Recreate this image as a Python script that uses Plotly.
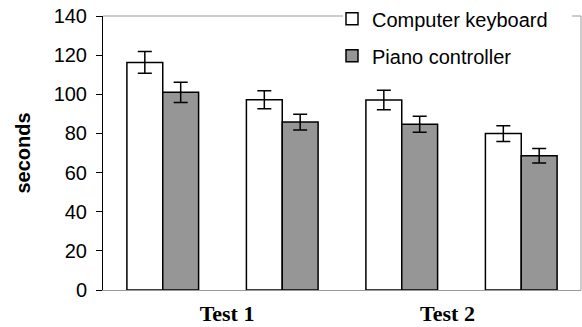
import plotly.graph_objects as go

# Data
group_index = [0, 1, 2, 3]
keyboard = [116.3, 97.2, 97.1, 79.9]
keyboard_err = [5.5, 4.6, 5.0, 4.0]
piano = [101.0, 85.8, 84.7, 68.6]
piano_err = [5.2, 4.0, 4.1, 3.7]
test_labels = ["Test 1", "Test 2"]
y_ticks = [0, 20, 40, 60, 80, 100, 120, 140]

L, R, T, B = 103, 1, 16, 37
W, H = 582, 327
pw = W - L - R

def px(x):
    return (x - L) / pw

fig = go.Figure()
fig.add_trace(go.Bar(
    x=group_index, y=keyboard, name="Computer keyboard",
    marker=dict(color="white", line=dict(color="black", width=1.5)),
    error_y=dict(type="data", array=keyboard_err, color="black", thickness=1.5, width=7),
    legendgroup="a",
))
fig.add_trace(go.Bar(
    x=group_index, y=piano, name="Piano controller",
    marker=dict(color="#969696", line=dict(color="black", width=1.5)),
    error_y=dict(type="data", array=piano_err, color="black", thickness=1.5, width=7),
    legendgroup="b",
))

fig.update_layout(
    width=W, height=H,
    margin=dict(l=L, r=R, t=T, b=B, autoexpand=False),
    paper_bgcolor="white", plot_bgcolor="white",
    barmode="group", bargap=0.4, bargroupgap=0,
    font=dict(family="Liberation Sans, Arial, sans-serif", size=20, color="black"),
    showlegend=True,
    legend=dict(x=px(332), xanchor="left", y=1.061, yanchor="top",
                bgcolor="rgba(0,0,0,0)", font=dict(size=20),
                tracegroupgap=8, traceorder="grouped"),
    xaxis=dict(range=[-0.5, 3.5], tickmode="array", tickvals=[0.538, 2.383],
               ticktext=test_labels, showgrid=False, zeroline=False,
               showline=True, linecolor="#999999", linewidth=1, ticks="",
               ticklabelstandoff=4,
               tickfont=dict(family="Liberation Serif, Times New Roman, serif", size=22, weight="bold")),
    yaxis=dict(range=[0, 140], tickmode="array", tickvals=y_ticks, showgrid=False,
               zeroline=False, showline=True, linecolor="black", linewidth=1,
               ticks="outside", ticklen=6, tickcolor="black", ticklabelstandoff=5,
               title=dict(text="<b>seconds</b>", font=dict(size=20), standoff=17)),
    shapes=[
        dict(type="line", xref="paper", yref="paper", x0=0, x1=px(343), y0=1, y1=1,
             line=dict(color="#999999", width=1)),
        dict(type="line", xref="paper", yref="paper", x0=px(572), x1=1, y0=1, y1=1,
             line=dict(color="#999999", width=1)),
        dict(type="line", xref="paper", yref="paper", x0=1, x1=1, y0=0, y1=1,
             line=dict(color="#999999", width=1)),
    ],
)

fig.write_html("out.html", config={"displayModeBar": False},
               post_script="document.body.style.margin='0';")
